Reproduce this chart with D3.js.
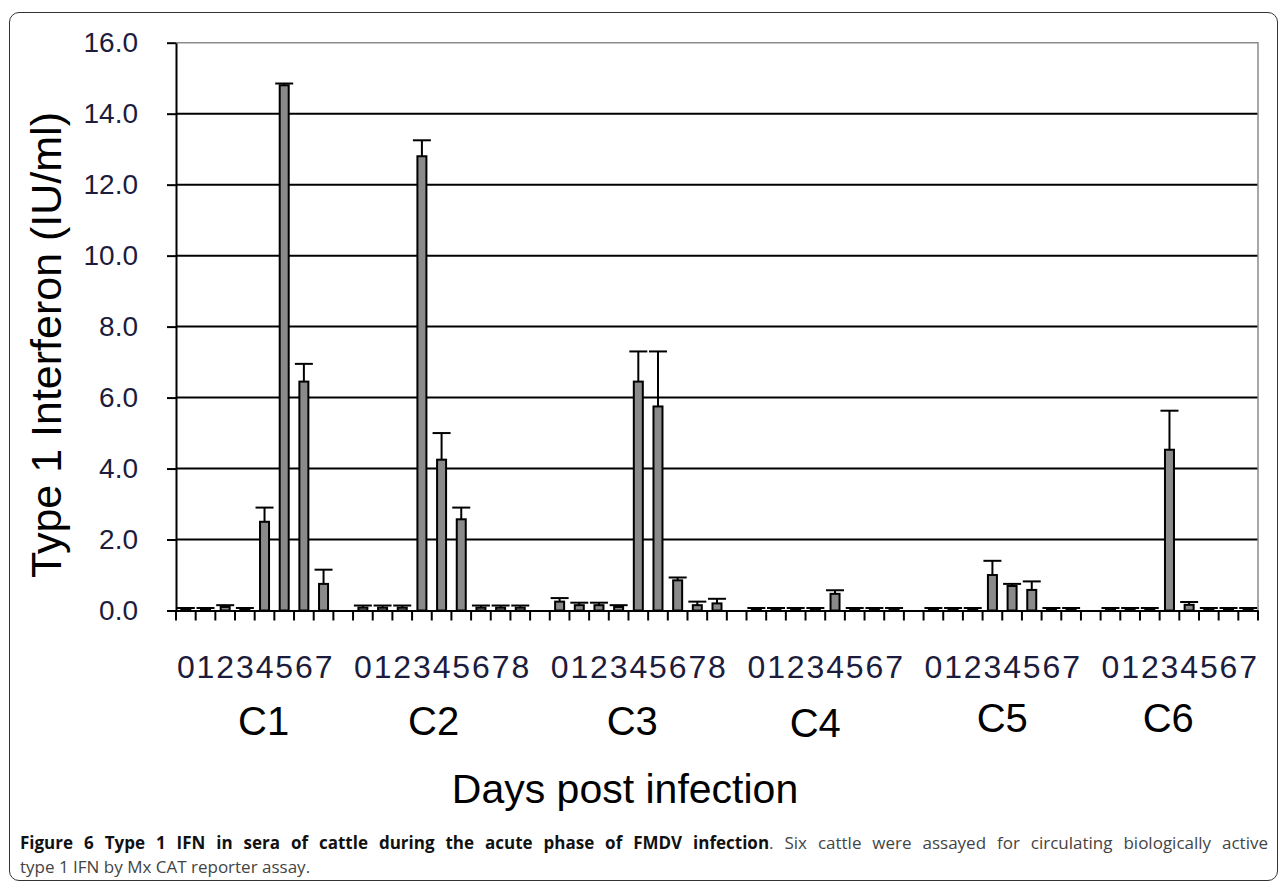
<!DOCTYPE html>
<html>
<head>
<meta charset="utf-8">
<script src="https://cdn.jsdelivr.net/npm/d3@7"></script>
<style>
  body { margin: 0; background: #fff; }
  #frame {
    position: absolute; left: 9px; top: 12px; width: 1269px; height: 869px;
    border: 1.5px solid #333; border-radius: 10px; box-sizing: border-box;
  }
  svg { position: absolute; left: 0; top: 0; }
  .cap {
    position: absolute; left: 20px; width: 1248px;
    font-family: "Open Sans", sans-serif; font-size: 17px; color: #444; white-space: nowrap;
  }
  .cap b { color: #111; }
</style>
</head>
<body>
<div id="frame"></div>
<svg id="chart" width="1282" height="887"></svg>
<div class="cap" style="top:831px; white-space:normal; text-align:justify; text-align-last:justify;"><b>Figure 6 Type 1 IFN in sera of cattle during the acute phase of FMDV infection</b>. Six cattle were assayed for circulating biologically active</div>
<div class="cap" style="top:855px;">type 1 IFN by Mx CAT reporter assay.</div>

<script>
// values
const cattle = ["C1", "C2", "C3", "C4", "C5", "C6"];
const days = [
  ["0", "1", "2", "3", "4", "5", "6", "7"],
  ["0", "1", "2", "3", "4", "5", "6", "7", "8"],
  ["0", "1", "2", "3", "4", "5", "6", "7", "8"],
  ["0", "1", "2", "3", "4", "5", "6", "7"],
  ["0", "1", "2", "3", "4", "5", "6", "7"],
  ["0", "1", "2", "3", "4", "5", "6", "7"]
];
const ifnMean = [
  [0.05, 0.05, 0.1, 0.05, 2.5, 14.8, 6.45, 0.75],
  [0.08, 0.08, 0.08, 12.8, 4.25, 2.57, 0.08, 0.08, 0.08],
  [0.25, 0.15, 0.15, 0.1, 6.45, 5.75, 0.85, 0.15, 0.2],
  [0.05, 0.05, 0.05, 0.05, 0.47, 0.05, 0.05, 0.05],
  [0.05, 0.05, 0.05, 1.0, 0.69, 0.58, 0.05, 0.05],
  [0.05, 0.05, 0.05, 4.53, 0.16, 0.05, 0.05, 0.05]
];
const ifnErr = [
  [0.02, 0.02, 0.05, 0.02, 0.4, 0.05, 0.5, 0.4],
  [0.06, 0.06, 0.06, 0.45, 0.75, 0.33, 0.06, 0.06, 0.06],
  [0.1, 0.07, 0.07, 0.05, 0.85, 1.55, 0.08, 0.1, 0.13],
  [0.02, 0.02, 0.02, 0.02, 0.1, 0.02, 0.02, 0.02],
  [0.02, 0.02, 0.02, 0.4, 0.06, 0.24, 0.02, 0.02],
  [0.02, 0.02, 0.02, 1.1, 0.08, 0.02, 0.02, 0.02]
];
const yTicks = [0, 2, 4, 6, 8, 10, 12, 14, 16];

const font = "'Liberation Sans', Arial, sans-serif";
const plotL = 176, plotR = 1258, plotT = 42.7, plotB = 610.5;
// hand placed group labels in the original: shift from group centre, baseline
const labelShift = [9, -8, -6, -10, 0, -11];
const labelBase = [735, 735, 735, 737, 732, 732];

// one slot per day, empty slot between cattle
const rows = [];
cattle.forEach((c, g) => {
  days[g].forEach((d, i) => {
    rows.push({ key: c + "-" + d, day: d, group: c, mean: ifnMean[g][i], err: ifnErr[g][i] });
  });
  if (g < cattle.length - 1) rows.push({ key: "gap" + g, day: "", group: null, mean: null });
});

const x = d3.scaleBand().domain(rows.map(r => r.key)).range([plotL, plotR]);
const y = d3.scaleLinear().domain([0, 16]).range([plotB, plotT]);
const bw = x.bandwidth();
const barW = 9;

const svg = d3.select("#chart");

// gridlines
svg.append("g")
  .selectAll("line")
  .data(yTicks.filter(v => v > 0 && v < 16))
  .join("line")
    .attr("x1", plotL).attr("x2", plotR)
    .attr("y1", d => y(d)).attr("y2", d => y(d))
    .attr("stroke", "#000").attr("stroke-width", 2);

// plot area border (top + right)
svg.append("path")
  .attr("d", `M${plotL},${y(16)}H${plotR}V${plotB}`)
  .attr("fill", "none").attr("stroke", "#8c8c8c").attr("stroke-width", 1.5);

// y axis
const yAxis = svg.append("g")
  .attr("transform", `translate(${plotL},0)`)
  .call(d3.axisLeft(y).tickValues(yTicks).tickFormat(d3.format(".1f"))
    .tickSize(9).tickSizeOuter(0).tickPadding(29));
yAxis.select(".domain").attr("stroke", "#000").attr("stroke-width", 2);
yAxis.selectAll(".tick line").attr("stroke", "#000").attr("stroke-width", 2);
yAxis.selectAll("text")
  .style("font-family", font).style("font-size", "28px").attr("fill", "#1c1c3c");

// x axis with day labels
const dayOf = {};
rows.forEach(r => { dayOf[r.key] = r.day; });
const xAxis = svg.append("g")
  .attr("transform", `translate(0,${plotB})`)
  .call(d3.axisBottom(x).tickSize(0).tickSizeOuter(0).tickFormat(k => dayOf[k]));
xAxis.select(".domain").attr("stroke", "#000").attr("stroke-width", 2);
xAxis.selectAll("text")
  .attr("y", 67).attr("dy", null)
  .style("font-family", font).style("font-size", "32px").attr("fill", "#1c1c3c");

// tick marks between categories
svg.append("g")
  .selectAll("line")
  .data(rows.map(r => x(r.key)).concat([plotR]))
  .join("line")
    .attr("x1", d => d).attr("x2", d => d)
    .attr("y1", plotB).attr("y2", plotB + 10)
    .attr("stroke", "#000").attr("stroke-width", 2);

const bars = rows.filter(r => r.mean != null);

// bars
svg.append("g")
  .selectAll("rect")
  .data(bars)
  .join("rect")
    .attr("x", d => x(d.key) + (bw - barW) / 2)
    .attr("y", d => y(d.mean))
    .attr("width", barW)
    .attr("height", d => y(0) - y(d.mean))
    .attr("fill", "#8a8a8a")
    .attr("stroke", "#000")
    .attr("stroke-width", 2);

// error bars (upper only)
const eb = svg.append("g").attr("stroke", "#000").attr("stroke-width", 2);
eb.selectAll(".stem")
  .data(bars)
  .join("line")
    .attr("class", "stem")
    .attr("x1", d => x(d.key) + bw / 2).attr("x2", d => x(d.key) + bw / 2)
    .attr("y1", d => y(d.mean)).attr("y2", d => y(d.mean + d.err));
eb.selectAll(".capline")
  .data(bars)
  .join("line")
    .attr("class", "capline")
    .attr("x1", d => x(d.key) + bw / 2 - 9).attr("x2", d => x(d.key) + bw / 2 + 9)
    .attr("y1", d => y(d.mean + d.err)).attr("y2", d => y(d.mean + d.err));

// cattle labels under each group
svg.append("g")
  .selectAll("text")
  .data(cattle)
  .join("text")
    .attr("x", (c, g) => {
      const first = x(c + "-" + days[g][0]);
      const last = x(c + "-" + days[g][days[g].length - 1]) + bw;
      return (first + last) / 2 + labelShift[g];
    })
    .attr("y", (c, g) => labelBase[g])
    .attr("text-anchor", "middle")
    .style("font-family", font).style("font-size", "40px")
    .text(c => c);

// axis titles
svg.append("text")
  .attr("transform", "translate(61,345) rotate(-90)")
  .attr("text-anchor", "middle")
  .style("font-family", font).style("font-size", "43px")
  .text("Type 1 Interferon (IU/ml)");

svg.append("text")
  .attr("x", 625).attr("y", 803)
  .attr("text-anchor", "middle")
  .style("font-family", font).style("font-size", "41px")
  .text("Days post infection");
</script>
</body>
</html>
